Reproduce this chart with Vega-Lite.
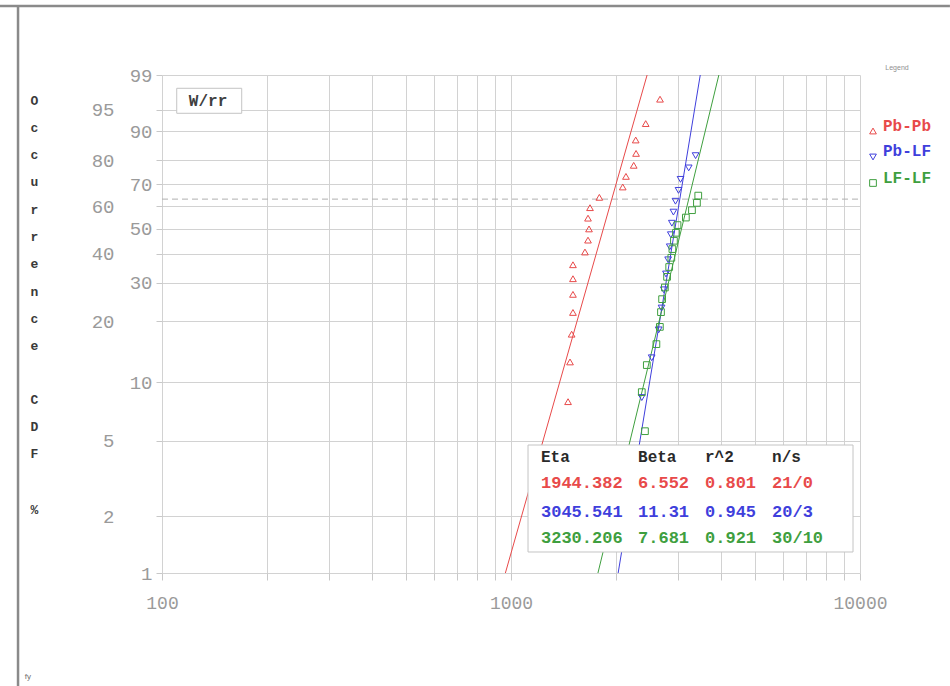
{
  "$schema": "https://vega.github.io/schema/vega-lite/v6.json",
  "width": 698,
  "height": 498,
  "autosize": {"type": "none"},
  "padding": {"left": 162, "top": 75, "right": 90, "bottom": 113},
  "background": "white",
  "config": {"view": {"stroke": null}, "font": "Liberation Mono"},
  "resolve": {"axis": {"y": "independent"}},
  "datasets": {
    "fits": [
      {"series": "Pb-Pb", "x": 963.6, "w": -4.6002},
      {"series": "Pb-Pb", "x": 2454.7, "w": 1.5272},
      {"series": "Pb-LF", "x": 2027.8, "w": -4.6002},
      {"series": "Pb-LF", "x": 3485.7, "w": 1.5272},
      {"series": "LF-LF", "x": 1774.8, "w": -4.6002},
      {"series": "LF-LF", "x": 3940.7, "w": 1.5272}
    ],
    "points": [
      {"series": "Pb-Pb", "cdf": 3.27, "w": -3.4037, "x": 1400},
      {"series": "Pb-Pb", "cdf": 7.94, "w": -2.4921, "x": 1457},
      {"series": "Pb-Pb", "cdf": 12.62, "w": -2.0033, "x": 1476},
      {"series": "Pb-Pb", "cdf": 17.29, "w": -1.6617, "x": 1492},
      {"series": "Pb-Pb", "cdf": 21.96, "w": -1.3943, "x": 1505},
      {"series": "Pb-Pb", "cdf": 26.64, "w": -1.1718, "x": 1505},
      {"series": "Pb-Pb", "cdf": 31.31, "w": -0.9793, "x": 1505},
      {"series": "Pb-Pb", "cdf": 35.98, "w": -0.8075, "x": 1505},
      {"series": "Pb-Pb", "cdf": 40.65, "w": -0.6507, "x": 1629},
      {"series": "Pb-Pb", "cdf": 45.33, "w": -0.5043, "x": 1662},
      {"series": "Pb-Pb", "cdf": 50.0, "w": -0.3665, "x": 1673},
      {"series": "Pb-Pb", "cdf": 54.67, "w": -0.2341, "x": 1662},
      {"series": "Pb-Pb", "cdf": 59.35, "w": -0.1052, "x": 1684},
      {"series": "Pb-Pb", "cdf": 64.02, "w": 0.022, "x": 1791},
      {"series": "Pb-Pb", "cdf": 68.69, "w": 0.1494, "x": 2090},
      {"series": "Pb-Pb", "cdf": 73.36, "w": 0.2798, "x": 2135},
      {"series": "Pb-Pb", "cdf": 78.04, "w": 0.416, "x": 2247},
      {"series": "Pb-Pb", "cdf": 82.71, "w": 0.5625, "x": 2282},
      {"series": "Pb-Pb", "cdf": 87.38, "w": 0.7275, "x": 2277},
      {"series": "Pb-Pb", "cdf": 92.06, "w": 0.9295, "x": 2432},
      {"series": "Pb-Pb", "cdf": 96.73, "w": 1.2297, "x": 2673},
      {"series": "Pb-LF", "cdf": 3.43, "w": -3.355, "x": 2300},
      {"series": "Pb-LF", "cdf": 8.33, "w": -2.4417, "x": 2370},
      {"series": "Pb-LF", "cdf": 13.24, "w": -1.9522, "x": 2530},
      {"series": "Pb-LF", "cdf": 18.14, "w": -1.6088, "x": 2650},
      {"series": "Pb-LF", "cdf": 23.04, "w": -1.34, "x": 2700},
      {"series": "Pb-LF", "cdf": 27.94, "w": -1.1157, "x": 2740},
      {"series": "Pb-LF", "cdf": 32.84, "w": -0.921, "x": 2780},
      {"series": "Pb-LF", "cdf": 37.75, "w": -0.7467, "x": 2820},
      {"series": "Pb-LF", "cdf": 42.65, "w": -0.587, "x": 2850},
      {"series": "Pb-LF", "cdf": 47.55, "w": -0.4381, "x": 2870},
      {"series": "Pb-LF", "cdf": 52.45, "w": -0.2965, "x": 2890},
      {"series": "Pb-LF", "cdf": 57.35, "w": -0.1599, "x": 2920},
      {"series": "Pb-LF", "cdf": 62.25, "w": -0.026, "x": 2960},
      {"series": "Pb-LF", "cdf": 67.16, "w": 0.1075, "x": 3020},
      {"series": "Pb-LF", "cdf": 72.06, "w": 0.243, "x": 3060},
      {"series": "Pb-LF", "cdf": 76.96, "w": 0.3839, "x": 3230},
      {"series": "Pb-LF", "cdf": 81.86, "w": 0.5349, "x": 3380},
      {"series": "LF-LF", "cdf": 2.3, "w": -3.7591, "x": 2000},
      {"series": "LF-LF", "cdf": 5.59, "w": -2.8553, "x": 2420},
      {"series": "LF-LF", "cdf": 8.88, "w": -2.3749, "x": 2370},
      {"series": "LF-LF", "cdf": 12.17, "w": -2.0419, "x": 2450},
      {"series": "LF-LF", "cdf": 15.46, "w": -1.784, "x": 2610},
      {"series": "LF-LF", "cdf": 18.75, "w": -1.5719, "x": 2670},
      {"series": "LF-LF", "cdf": 22.04, "w": -1.3905, "x": 2690},
      {"series": "LF-LF", "cdf": 25.33, "w": -1.2308, "x": 2710},
      {"series": "LF-LF", "cdf": 28.62, "w": -1.0874, "x": 2760},
      {"series": "LF-LF", "cdf": 31.91, "w": -0.9563, "x": 2800},
      {"series": "LF-LF", "cdf": 35.2, "w": -0.8352, "x": 2840},
      {"series": "LF-LF", "cdf": 38.49, "w": -0.7218, "x": 2880},
      {"series": "LF-LF", "cdf": 41.78, "w": -0.6146, "x": 2900},
      {"series": "LF-LF", "cdf": 45.07, "w": -0.5124, "x": 2930},
      {"series": "LF-LF", "cdf": 48.36, "w": -0.4143, "x": 2970},
      {"series": "LF-LF", "cdf": 51.64, "w": -0.3194, "x": 3000},
      {"series": "LF-LF", "cdf": 54.93, "w": -0.2269, "x": 3170},
      {"series": "LF-LF", "cdf": 58.22, "w": -0.1361, "x": 3300},
      {"series": "LF-LF", "cdf": 61.51, "w": -0.0462, "x": 3410},
      {"series": "LF-LF", "cdf": 64.8, "w": 0.0432, "x": 3440}
    ],
    "legend": [
      {"series": "Pb-Pb", "sx": 10896, "sw": 0.8382, "lx": 11637, "lw": 0.8997},
      {"series": "Pb-LF", "sx": 10896, "sw": 0.5183, "lx": 11637, "lw": 0.5921},
      {"series": "LF-LF", "sx": 10896, "sw": 0.1984, "lx": 11637, "lw": 0.2599}
    ],
    "table": [
      {"series": "hdr", "label": "Eta", "x": 1219, "w": -3.169},
      {"series": "hdr", "label": "Beta", "x": 2312, "w": -3.169},
      {"series": "hdr", "label": "r^2", "x": 3597, "w": -3.169},
      {"series": "hdr", "label": "n/s", "x": 5597, "w": -3.169},
      {"series": "Pb-Pb", "label": "1944.382", "x": 1219, "w": -3.496},
      {"series": "Pb-Pb", "label": "6.552", "x": 2312, "w": -3.496},
      {"series": "Pb-Pb", "label": "0.801", "x": 3597, "w": -3.496},
      {"series": "Pb-Pb", "label": "21/0", "x": 5597, "w": -3.496},
      {"series": "Pb-LF", "label": "3045.541", "x": 1219, "w": -3.846},
      {"series": "Pb-LF", "label": "11.31", "x": 2312, "w": -3.846},
      {"series": "Pb-LF", "label": "0.945", "x": 3597, "w": -3.846},
      {"series": "Pb-LF", "label": "20/3", "x": 5597, "w": -3.846},
      {"series": "LF-LF", "label": "3230.206", "x": 1219, "w": -4.173},
      {"series": "LF-LF", "label": "7.681", "x": 2312, "w": -4.173},
      {"series": "LF-LF", "label": "0.921", "x": 3597, "w": -4.173},
      {"series": "LF-LF", "label": "30/10", "x": 5597, "w": -4.173}
    ],
    "boxes": [
      {"name": "table", "x1": 1118.9, "x2": 9549, "w1": -3.0253, "w2": -4.3418},
      {"name": "model", "x1": 110.2, "x2": 169.2, "w1": 1.3636, "w2": 1.056}
    ]
  },
  "layer": [
    {
      "data": {"values": [{"x": 100, "x2": 10000, "w": 0}]},
      "mark": {"type": "rule", "color": "#b0b0b0", "strokeDash": [6, 4], "strokeWidth": 1},
      "encoding": {
        "x": {
          "field": "x", "type": "quantitative",
          "scale": {"type": "log", "domain": [100, 10000]},
          "axis": {
            "title": null,
            "values": [100, 200, 300, 400, 500, 600, 700, 800, 900, 1000, 2000, 3000, 4000, 5000, 6000, 7000, 8000, 9000, 10000],
            "format": "d",
            "labelExpr": "indexof([100, 1000, 10000], datum.value) >= 0 ? datum.label : ''",
            "grid": true, "gridColor": "#d2d2d2", "gridWidth": 1,
            "domain": false, "tickColor": "#c8c8c8", "tickSize": 7,
            "labelFont": "Liberation Mono", "labelFontSize": 18, "labelColor": "#9a9a9a",
            "labelPadding": 14, "labelFlush": false, "labelOverlap": false
          }
        },
        "x2": {"field": "x2"},
        "y": {
          "field": "w", "type": "quantitative",
          "scale": {"domain": [-4.6002, 1.5272], "zero": false, "nice": false},
          "axis": {
            "orient": "left",
            "values": [-4.6002, -3.902, -2.9702, -2.2504, -1.4999, -1.0309, -0.6717, -0.3665, -0.0874, 0.1856, 0.4759, 0.834, 1.0972, 1.5272],
            "labelExpr": "indexof([1, 10, 30, 50, 70, 90, 99], round(100*(1-exp(-exp(datum.value))))) >= 0 ? '' + round(100*(1-exp(-exp(datum.value)))) : ''",
            "grid": true, "gridColor": "#d2d2d2", "gridWidth": 1,
            "domain": false, "tickColor": "#c8c8c8", "tickSize": 6,
            "labelFont": "Liberation Mono", "labelFontSize": 19, "labelColor": "#9a9a9a",
            "labelPadding": 4, "labelOverlap": false, "labelFlush": false, "labelBound": false,
            "title": ["O", "c", "c", "u", "r", "r", "e", "n", "c", "e"],
            "titleAngle": 0, "titleFont": "Liberation Mono", "titleFontSize": 13, "titleFontWeight": "bold",
            "titleColor": "#3a3a3a", "titleLineHeight": 27.3, "titleX": -128, "titleY": 25,
            "titleAlign": "center", "titleBaseline": "middle"
          }
        }
      }
    },
    {
      "data": {"name": "fits"},
      "mark": {"type": "line", "strokeWidth": 1},
      "encoding": {
        "x": {"field": "x", "type": "quantitative"},
        "y": {
          "field": "w", "type": "quantitative",
          "axis": {
            "orient": "left",
            "values": [-3.902, -2.9702, -1.4999, -0.6717, -0.0874, 0.4759, 1.0972],
            "labelExpr": "'' + round(100*(1-exp(-exp(datum.value))))",
            "grid": false, "domain": false, "ticks": false,
            "labelFont": "Liberation Mono", "labelFontSize": 19, "labelColor": "#9a9a9a",
            "labelPadding": 48, "labelOverlap": false, "labelFlush": false, "labelBound": false,
            "title": ["C", "D", "F"],
            "titleAngle": 0, "titleFont": "Liberation Mono", "titleFontSize": 13, "titleFontWeight": "bold",
            "titleColor": "#3a3a3a", "titleLineHeight": 27.3, "titleX": -128, "titleY": 324,
            "titleAlign": "center", "titleBaseline": "middle"
          }
        },
        "stroke": {
          "field": "series", "type": "nominal", "legend": null,
          "scale": {"domain": ["Pb-Pb", "Pb-LF", "LF-LF"], "range": ["#e84a4a", "#3f3fdc", "#3f9f3f"]}
        }
      }
    },
    {
      "data": {"name": "points"},
      "mark": {"type": "point", "filled": false, "size": 45, "strokeWidth": 1, "opacity": 1},
      "encoding": {
        "x": {"field": "x", "type": "quantitative"},
        "y": {"field": "w", "type": "quantitative", "axis": null},
        "color": {
          "field": "series", "type": "nominal", "legend": null,
          "scale": {"domain": ["Pb-Pb", "Pb-LF", "LF-LF"], "range": ["#e84a4a", "#3f3fdc", "#3f9f3f"]}
        },
        "shape": {
          "field": "series", "type": "nominal", "legend": null,
          "scale": {"domain": ["Pb-Pb", "Pb-LF", "LF-LF"], "range": ["triangle-up", "triangle-down", "square"]}
        }
      }
    },
    {
      "data": {"name": "legend"},
      "mark": {"type": "point", "filled": false, "size": 45, "strokeWidth": 1, "opacity": 1},
      "encoding": {
        "x": {"field": "sx", "type": "quantitative"},
        "y": {"field": "sw", "type": "quantitative", "axis": null},
        "color": {"field": "series", "type": "nominal", "legend": null},
        "shape": {"field": "series", "type": "nominal", "legend": null}
      }
    },
    {
      "data": {"name": "legend"},
      "mark": {"type": "text", "align": "left", "baseline": "middle", "font": "Liberation Mono", "fontSize": 16, "fontWeight": "bold"},
      "encoding": {
        "x": {"field": "lx", "type": "quantitative"},
        "y": {"field": "lw", "type": "quantitative", "axis": null},
        "text": {"field": "series"},
        "color": {"field": "series", "type": "nominal", "legend": null}
      }
    },
    {
      "data": {"values": [{"label": "Legend", "x": 12764, "w": 1.6133}]},
      "mark": {"type": "text", "align": "center", "baseline": "middle", "font": "Liberation Sans", "fontSize": 7, "color": "#909090"},
      "encoding": {
        "x": {"field": "x", "type": "quantitative"},
        "y": {"field": "w", "type": "quantitative", "axis": null},
        "text": {"field": "label"}
      }
    },
    {
      "data": {"name": "boxes"},
      "mark": {"type": "rect", "fill": "white", "stroke": "#c4c4c4", "strokeWidth": 1},
      "encoding": {
        "x": {"field": "x1", "type": "quantitative"},
        "x2": {"field": "x2"},
        "y": {
          "field": "w1", "type": "quantitative",
          "axis": {
            "orient": "left", "labels": false, "ticks": false, "domain": false, "grid": false,
            "title": "%",
            "titleAngle": 0, "titleFont": "Liberation Mono", "titleFontSize": 13, "titleFontWeight": "bold",
            "titleColor": "#3a3a3a", "titleX": -128, "titleY": 434,
            "titleAlign": "center", "titleBaseline": "middle"
          }
        },
        "y2": {"field": "w2"}
      }
    },
    {
      "data": {"name": "table"},
      "transform": [{"filter": "datum.series === 'hdr'"}],
      "mark": {"type": "text", "align": "left", "baseline": "middle", "font": "Liberation Mono", "fontSize": 16, "fontWeight": "bold", "color": "#2a2a2a"},
      "encoding": {
        "x": {"field": "x", "type": "quantitative"},
        "y": {"field": "w", "type": "quantitative", "axis": null},
        "text": {"field": "label"}
      }
    },
    {
      "data": {"name": "table"},
      "transform": [{"filter": "datum.series !== 'hdr'"}],
      "mark": {"type": "text", "align": "left", "baseline": "middle", "font": "Liberation Mono", "fontSize": 17, "fontWeight": "bold"},
      "encoding": {
        "x": {"field": "x", "type": "quantitative"},
        "y": {"field": "w", "type": "quantitative", "axis": null},
        "text": {"field": "label"},
        "color": {"field": "series", "type": "nominal", "legend": null}
      }
    },
    {
      "data": {"values": [{"label": "W/rr", "x": 135.5, "w": 1.211}]},
      "mark": {"type": "text", "align": "center", "baseline": "middle", "font": "Liberation Mono", "fontSize": 16, "fontWeight": "bold", "color": "#404040"},
      "encoding": {
        "x": {"field": "x", "type": "quantitative"},
        "y": {"field": "w", "type": "quantitative", "axis": null},
        "text": {"field": "label"}
      }
    },
    {
      "data": {"values": [
        {"x": 34.3, "x2": 18100, "w": 2.3762, "w2": 2.3762, "edge": "top"},
        {"x": 38.68, "x2": 38.68, "w": 2.3762, "w2": -5.9905, "edge": "left"}
      ]},
      "mark": {"type": "rule", "color": "#8a8a8a", "strokeWidth": 2.5},
      "encoding": {
        "x": {"field": "x", "type": "quantitative"},
        "x2": {"field": "x2"},
        "y": {"field": "w", "type": "quantitative", "axis": null},
        "y2": {"field": "w2"}
      }
    },
    {
      "data": {"values": [{"label": "fy", "x": 41.3, "w": -5.88}]},
      "mark": {"type": "text", "align": "center", "baseline": "middle", "font": "Liberation Sans", "fontSize": 8, "color": "#707070"},
      "encoding": {
        "x": {"field": "x", "type": "quantitative"},
        "y": {"field": "w", "type": "quantitative", "axis": null},
        "text": {"field": "label"}
      }
    }
  ]
}
